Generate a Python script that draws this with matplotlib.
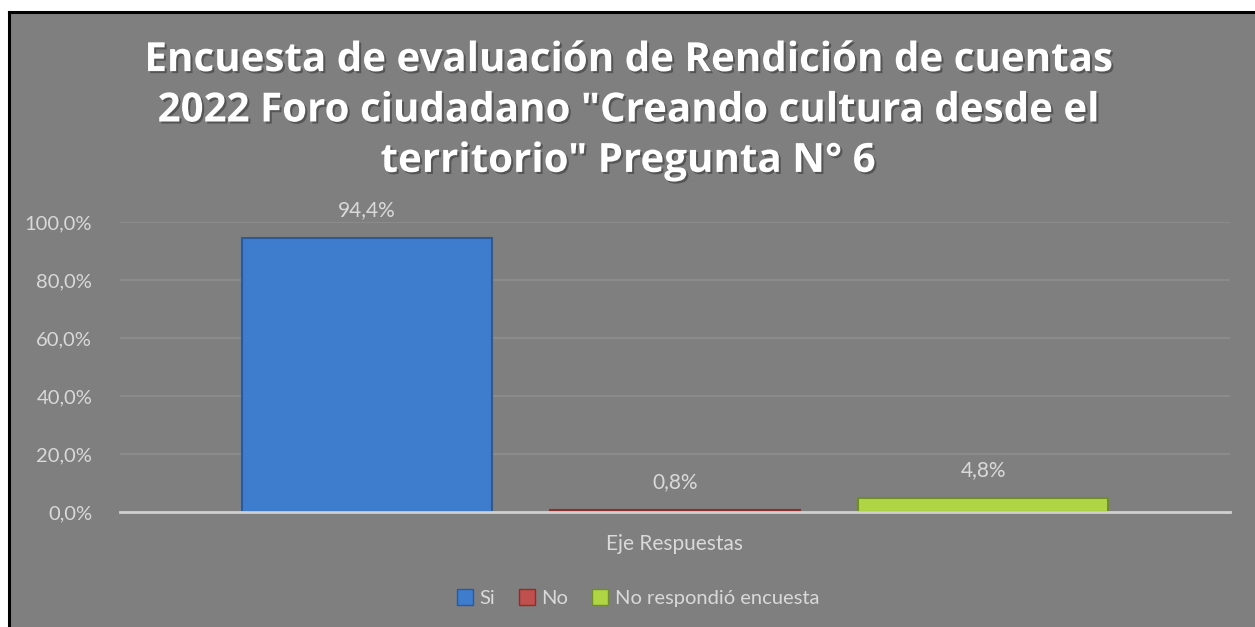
import matplotlib
matplotlib.use("Agg")
import matplotlib.pyplot as plt
import matplotlib.patheffects as pe
from matplotlib.patches import Rectangle
from matplotlib.lines import Line2D
import matplotlib.ticker as mtick

# Data
series = ["Si", "No", "No respondió encuesta"]
values = [0.944, 0.008, 0.048]
value_labels = ["94,4%", "0,8%", "4,8%"]
category = "Eje Respuestas"
title = ('Encuesta de evaluación de Rendición de cuentas\n'
         '2022 Foro ciudadano "Creando cultura desde el\n'
         'territorio" Pregunta N° 6')

# Colours
BG = "#7F7F7F"
GRID = "#8E8E8E"
TXT = "#D9D9D9"
FILLS = ["#3E7CCE", "#C0504D", "#AFD444"]
EDGES = ["#2B5A96", "#8B2F2D", "#6F8F24"]

W, H = 1255, 627
fig = plt.figure(figsize=(W / 100, H / 100), dpi=100, facecolor="white")

# chart area background with black border on top/left
fig.patches.append(Rectangle((9 / W, 0), 1, (H - 12) / H, transform=fig.transFigure,
                             facecolor=BG, edgecolor="none", zorder=-5))
fig.lines.append(Line2D([8.5 / W, 1], [(H - 11.5) / H] * 2, transform=fig.transFigure,
                        color="black", linewidth=2.2, zorder=1))
fig.lines.append(Line2D([8.5 / W] * 2, [0, (H - 11.5) / H], transform=fig.transFigure,
                        color="black", linewidth=2.2, zorder=1))

ax = fig.add_axes([120 / W, 115 / H, 1110 / W, 290 / H])
ax.set_facecolor("none")

xs = list(range(len(series)))
width = 0.81
bars = ax.bar(xs, values, width=width, color=FILLS, edgecolor=EDGES,
              linewidth=1.5, zorder=3)

for x, v, lab in zip(xs, values, value_labels):
    ax.annotate(lab, (x, v), xytext=(0, 13), textcoords="offset points",
                ha="center", va="bottom", color=TXT, fontsize=15, family="Lato")

ax.set_xlim(-0.8, 2.8)
ax.set_ylim(0, 1.0)
ax.set_yticks([0, 0.2, 0.4, 0.6, 0.8, 1.0])
ax.yaxis.set_major_formatter(mtick.FuncFormatter(lambda v, _: f"{v * 100:.1f}%".replace(".", ",")))
ax.set_xticks([])
ax.tick_params(axis="y", length=0, pad=20, colors=TXT, labelsize=14.5)
for t in ax.get_yticklabels():
    t.set_family("Lato")
ax.grid(axis="y", color=GRID, linewidth=1.2, zorder=0)
for s in ["top", "right", "left"]:
    ax.spines[s].set_visible(False)
ax.spines["bottom"].set_color("#D0D0D0")
ax.spines["bottom"].set_linewidth(2)
ax.spines["bottom"].set_zorder(4)

ax.set_xlabel(category, color=TXT, fontsize=15, family="Lato", labelpad=16)

fig.text(0.5, (H - 111) / H, title, ha="center", va="center", color="white",
         fontsize=29, fontweight="bold", family="Open Sans", linespacing=1.38,
         path_effects=[pe.SimplePatchShadow(offset=(1.5, -1.5), shadow_rgbFace="#3A3A3A", alpha=0.6),
                       pe.Normal()])

handles = [Rectangle((0, 0), 1, 1, facecolor=f, edgecolor=e, linewidth=1)
           for f, e in zip(FILLS, EDGES)]
leg = fig.legend(handles, series, loc="center", bbox_to_anchor=(638 / W, 29 / H),
                 ncol=3, frameon=False, handlelength=0.8, handleheight=0.8,
                 handletextpad=0.3, columnspacing=1.2,
                 prop={"family": "Lato", "size": 14.5})
for t in leg.get_texts():
    t.set_color(TXT)

fig.savefig("out.png", dpi=100, facecolor=fig.get_facecolor())
